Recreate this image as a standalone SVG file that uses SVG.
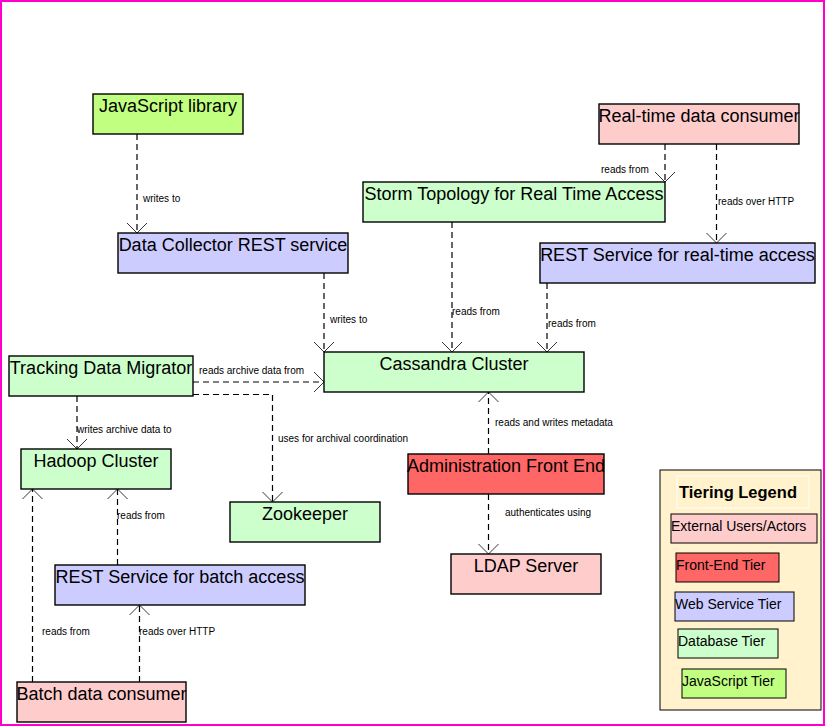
<svg xmlns="http://www.w3.org/2000/svg" width="826" height="727" viewBox="0 0 826 727">
<style>
.node{stroke:#000;stroke-width:1.4}
.nt{font-family:"Liberation Sans",Arial,sans-serif;font-size:18px;fill:#000;text-anchor:middle}
.lbl{font-family:"Liberation Sans",Arial,sans-serif;font-size:10px;fill:#000}
.edge{fill:none;stroke:#000;stroke-width:1.2;stroke-dasharray:6,4;marker-end:url(#arr)}
.lg{stroke:#000;stroke-width:1}
.lt{font-family:"Liberation Sans",Arial,sans-serif;font-size:14px;fill:#000}
.js{fill:#c0ff80}.db{fill:#ccffcc}.ws{fill:#ccccff}.ext{fill:#ffcccc}.fe{fill:#ff6666}
</style>
<defs>
<marker id="arr" markerUnits="userSpaceOnUse" markerWidth="22" markerHeight="22" refX="11" refY="11" orient="auto" viewBox="0 0 22 22">
<path d="M1,1 L11,11 L1,21" fill="none" stroke="#000" stroke-width="0.8"/>
</marker>
</defs>
<rect x="1" y="1" width="823" height="724" fill="#fff" stroke="#ff00cc" stroke-width="2"/>

<g id="edges">
<path class="edge" d="M137,134 V233"/>
<text class="lbl" x="143" y="202">writes to</text>
<path class="edge" d="M324,273 V352"/>
<text class="lbl" x="330" y="323">writes to</text>
<path class="edge" d="M665,144 V182"/>
<text class="lbl" x="601" y="173">reads from</text>
<path class="edge" d="M716.5,144 V243"/>
<text class="lbl" x="718" y="205">reads over HTTP</text>
<path class="edge" d="M452,222 V352"/>
<text class="lbl" x="452" y="315">reads from</text>
<path class="edge" d="M547,283 V352"/>
<text class="lbl" x="548" y="327">reads from</text>
<path class="edge" d="M193,382 H324"/>
<text class="lbl" x="199" y="374">reads archive data from</text>
<path class="edge" d="M193,394.5 H272.5 V502"/>
<text class="lbl" x="278" y="442">uses for archival coordination</text>
<path class="edge" d="M77,396 V449"/>
<text class="lbl" x="77" y="433">writes archive data to</text>
<path class="edge" d="M488.5,454 V392"/>
<text class="lbl" x="495" y="426">reads and writes metadata</text>
<path class="edge" d="M488.5,494 V554"/>
<text class="lbl" x="505" y="516">authenticates using</text>
<path class="edge" d="M117.5,565 V489"/>
<text class="lbl" x="117" y="519">reads from</text>
<path class="edge" d="M32.5,682 V489"/>
<text class="lbl" x="42" y="635">reads from</text>
<path class="edge" d="M139.5,682 V605"/>
<text class="lbl" x="139" y="635">reads over HTTP</text>
</g>

<g id="js-library"><rect class="node js" x="93" y="94" width="150" height="40"/><text class="nt" x="168" y="111.5">JavaScript library</text></g>
<g id="data-collector"><rect class="node ws" x="118" y="233" width="230" height="40"/><text class="nt" x="233" y="250.5">Data Collector REST service</text></g>
<g id="realtime-consumer"><rect class="node ext" x="599" y="104" width="200" height="40"/><text class="nt" x="699" y="121.5">Real-time data consumer</text></g>
<g id="storm"><rect class="node db" x="363" y="182" width="302" height="40"/><text class="nt" x="514" y="199.5">Storm Topology for Real Time Access</text></g>
<g id="rest-realtime"><rect class="node ws" x="540" y="243" width="275" height="40"/><text class="nt" x="677.5" y="260.5">REST Service for real-time access</text></g>
<g id="cassandra"><rect class="node db" x="324" y="352" width="260" height="40"/><text class="nt" x="454" y="369.5">Cassandra Cluster</text></g>
<g id="tracking-migrator"><rect class="node db" x="9" y="356" width="184" height="40"/><text class="nt" x="101" y="373.5">Tracking Data Migrator</text></g>
<g id="hadoop"><rect class="node db" x="21" y="449" width="150" height="40"/><text class="nt" x="96" y="466.5">Hadoop Cluster</text></g>
<g id="zookeeper"><rect class="node db" x="230" y="502" width="150" height="40"/><text class="nt" x="305" y="519.5">Zookeeper</text></g>
<g id="admin-frontend"><rect class="node fe" x="408" y="454" width="196" height="40"/><text class="nt" x="506" y="471.5">Administration Front End</text></g>
<g id="ldap"><rect class="node ext" x="451" y="554" width="150" height="40"/><text class="nt" x="526" y="571.5">LDAP Server</text></g>
<g id="rest-batch"><rect class="node ws" x="55" y="565" width="250" height="40"/><text class="nt" x="180" y="582.5">REST Service for batch access</text></g>
<g id="batch-consumer"><rect class="node ext" x="17" y="682" width="169" height="40"/><text class="nt" x="101.5" y="699.5">Batch data consumer</text></g>

<g id="legend">
<rect x="660" y="470" width="161" height="240" fill="#fff2cc" stroke="#000" stroke-width="1"/>
<rect x="677" y="476" width="132" height="32" fill="none" stroke="#fff" stroke-width="1"/>
<text x="679" y="497.5" font-family="Liberation Sans,Arial,sans-serif" font-size="16.5" font-weight="bold">Tiering Legend</text>
<rect class="lg ext" x="671" y="514" width="146" height="29"/><text class="lt" x="671" y="531">External Users/Actors</text>
<rect class="lg fe" x="676" y="553" width="103" height="29"/><text class="lt" x="676" y="570">Front-End Tier</text>
<rect class="lg ws" x="675" y="592" width="119" height="29"/><text class="lt" x="675" y="609">Web Service Tier</text>
<rect class="lg db" x="678" y="629" width="100" height="29"/><text class="lt" x="678" y="646">Database Tier</text>
<rect class="lg js" x="682" y="669" width="104" height="29"/><text class="lt" x="682" y="686">JavaScript Tier</text>
</g>
</svg>
